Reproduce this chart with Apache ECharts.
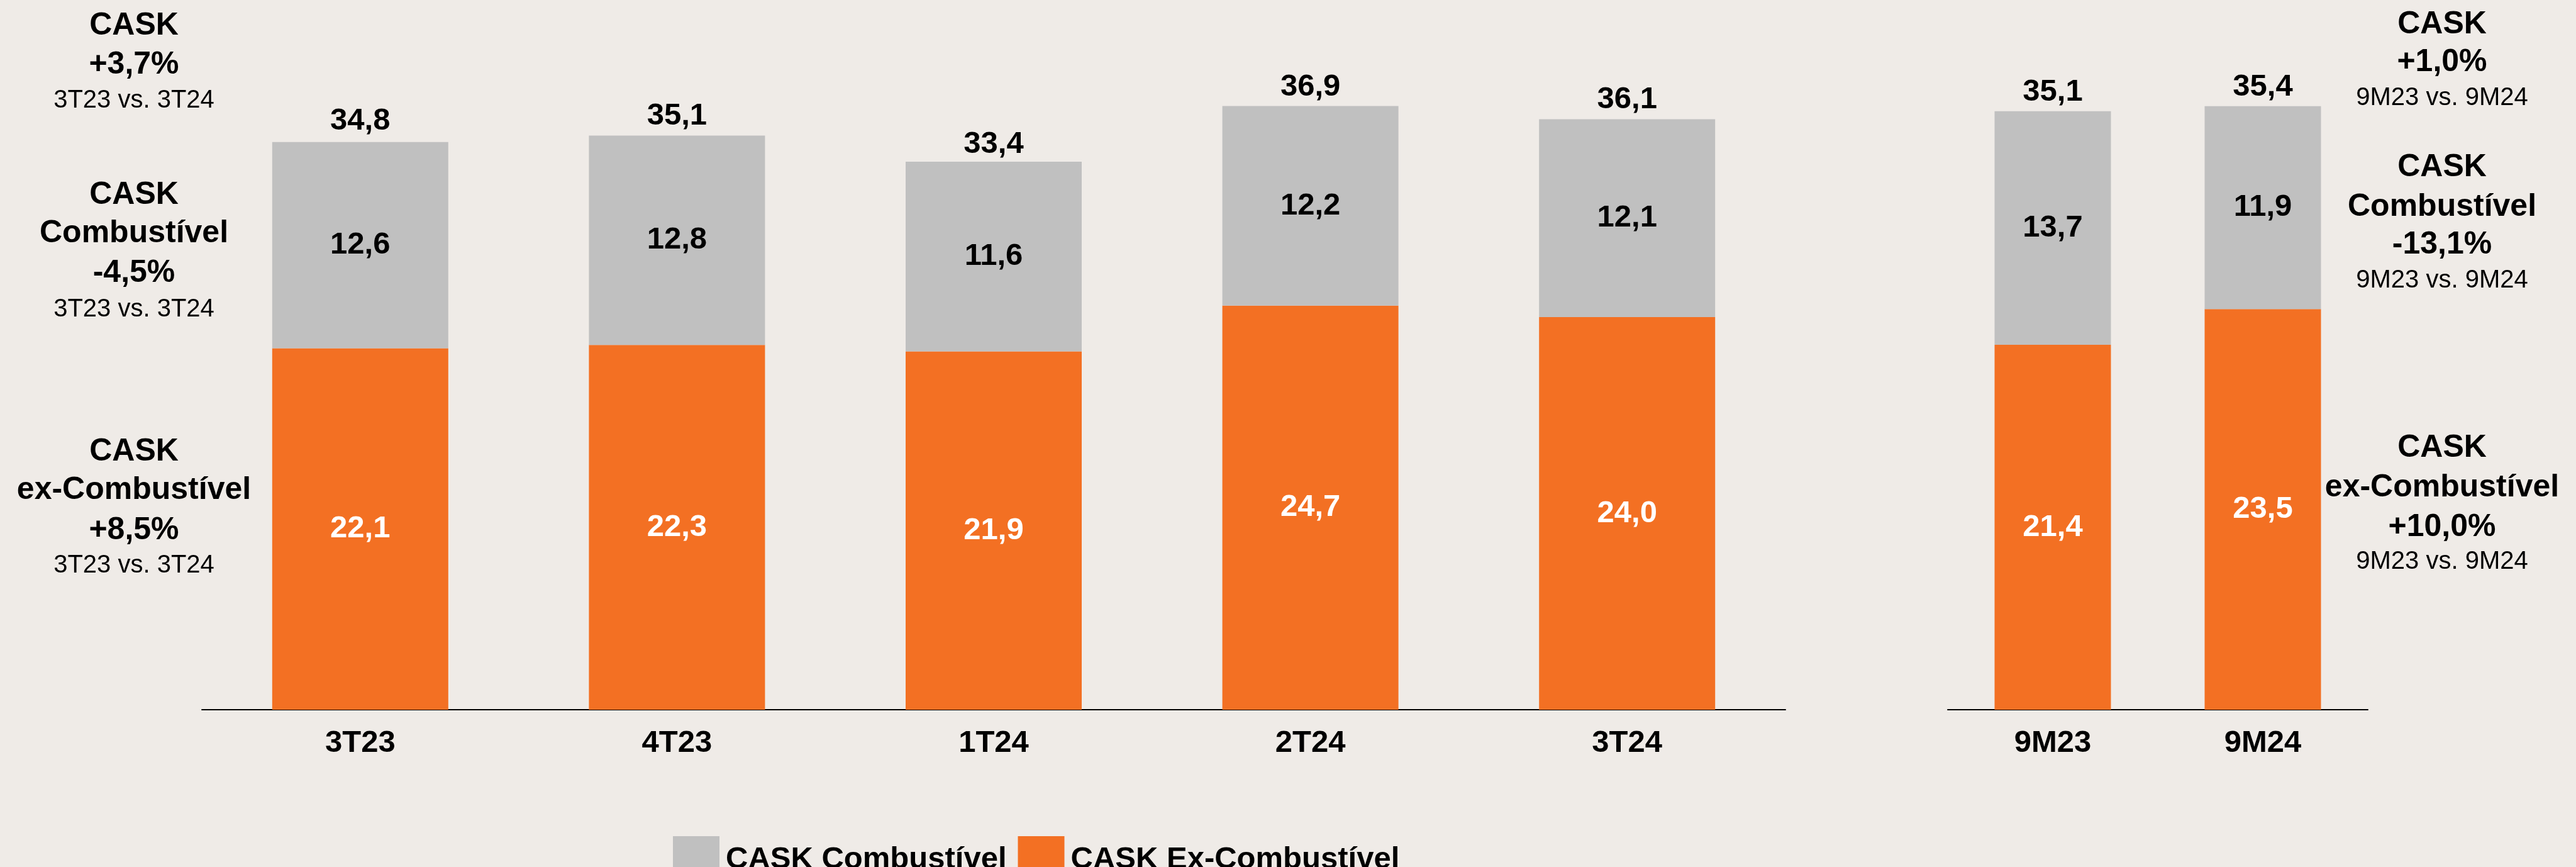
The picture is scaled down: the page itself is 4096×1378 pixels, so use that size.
<!DOCTYPE html>
<html>
<head>
<meta charset="UTF-8">
<title>CASK</title>
<script src="https://cdn.jsdelivr.net/npm/echarts@6/dist/echarts.min.js"></script>
<style>
  html, body { margin: 0; padding: 0; background: #EFEBE7; }
  #main { width: 4096px; height: 1378px; }
</style>
</head>
<body>
<div id="main"></div>
<script>
// quarterly (left panel)
var quarters = ['3T23', '4T23', '1T24', '2T24', '3T24'];
var qFuel    = [12.6, 12.8, 11.6, 12.2, 12.1];
var qExFuel  = [22.1, 22.3, 21.9, 24.7, 24.0];
var qTotal   = [34.8, 35.1, 33.4, 36.9, 36.1];

// nine months (right panel)
var periods  = ['9M23', '9M24'];
var pFuel    = [13.7, 11.9];
var pExFuel  = [21.4, 23.5];
var pTotal   = [35.1, 35.4];

// side notes
var leftNotes = [
  ['CASK', '+3,7%', '3T23 vs. 3T24'],
  ['CASK', 'Combustível', '-4,5%', '3T23 vs. 3T24'],
  ['CASK', 'ex-Combustível', '+8,5%', '3T23 vs. 3T24']
];
var rightNotes = [
  ['CASK', '+1,0%', '9M23 vs. 9M24'],
  ['CASK', 'Combustível', '-13,1%', '9M23 vs. 9M24'],
  ['CASK', 'ex-Combustível', '+10,0%', '9M23 vs. 9M24']
];

var FONT = "'Liberation Sans', Arial, sans-serif";
var GRAY = '#C0C0C0';
var ORANGE = '#F37023';

function fmt(v) {
  return v.toFixed(1).replace('.', ',');
}

// line y positions for each note block
var leftY  = [[41, 103, 160], [310, 371, 434, 492], [718, 779, 843, 899]];
var rightY = [[39, 99, 156], [266, 329, 389, 446], [712, 775, 838, 893]];

var graphics = [];
function addNotes(notes, ys, cx) {
  for (var b = 0; b < notes.length; b++) {
    for (var i = 0; i < notes[b].length; i++) {
      var last = i == notes[b].length - 1;
      graphics.push({
        type: 'text',
        x: cx,
        y: ys[b][i],
        style: {
          text: notes[b][i],
          font: (last ? 'normal 40px ' : 'bold 50px ') + FONT,
          fill: '#000',
          textAlign: 'center',
          textVerticalAlign: 'middle'
        }
      });
    }
  }
}
addNotes(leftNotes, leftY, 213);
addNotes(rightNotes, rightY, 3883);

function valueLabel(color) {
  return {
    show: true,
    position: 'inside',
    color: color,
    fontSize: 49,
    fontWeight: 'bold',
    fontFamily: FONT,
    formatter: function (p) { return fmt(p.value); }
  };
}

function totalSeries(data, idx, w) {
  return {
    type: 'bar',
    xAxisIndex: idx,
    yAxisIndex: idx,
    barWidth: w,
    barGap: '-100%',
    silent: true,
    itemStyle: { color: 'rgba(0,0,0,0)' },
    label: {
      show: true,
      position: 'top',
      distance: 6,
      color: '#000',
      fontSize: 49,
      fontWeight: 'bold',
      fontFamily: FONT,
      formatter: function (p) { return fmt(p.value); }
    },
    data: data
  };
}

function catAxis(data, idx) {
  return {
    type: 'category',
    gridIndex: idx,
    data: data,
    axisLine: { show: true, lineStyle: { color: '#000', width: 2 } },
    axisTick: { show: false },
    axisLabel: {
      color: '#000',
      fontSize: 49,
      fontWeight: 'bold',
      fontFamily: FONT,
      margin: 29
    }
  };
}

var chart = echarts.init(document.getElementById('main'));
var option = {
  backgroundColor: '#EFEBE7',
  animation: false,
  legend: {
    data: ['CASK Combustível', 'CASK Ex-Combustível'],
    left: 1065,
    top: 1324,
    itemWidth: 74,
    itemHeight: 74,
    itemGap: 18,
    icon: 'rect',
    textStyle: {
      color: '#000',
      fontSize: 49,
      fontWeight: 'bold',
      fontFamily: FONT,
      padding: [0, 0, 0, 5]
    }
  },
  grid: [
    { left: 321, top: 88, width: 2518, height: 1040 },
    { left: 3097, top: 44, width: 668, height: 1084 }
  ],
  xAxis: [catAxis(quarters, 0), catAxis(periods, 1)],
  yAxis: [
    { type: 'value', gridIndex: 0, min: 0, max: 40, show: false },
    { type: 'value', gridIndex: 1, min: 0, max: 40, show: false }
  ],
  series: [
    {
      name: 'CASK Ex-Combustível', type: 'bar', stack: 'q',
      xAxisIndex: 0, yAxisIndex: 0, barWidth: 280, barGap: '-100%',
      itemStyle: { color: ORANGE },
      label: valueLabel('#fff'),
      data: qExFuel
    },
    {
      name: 'CASK Combustível', type: 'bar', stack: 'q',
      xAxisIndex: 0, yAxisIndex: 0, barWidth: 280, barGap: '-100%',
      itemStyle: { color: GRAY },
      label: valueLabel('#000'),
      data: qFuel
    },
    totalSeries(qTotal, 0, 280),
    {
      name: 'CASK Ex-Combustível', type: 'bar', stack: 'p',
      xAxisIndex: 1, yAxisIndex: 1, barWidth: 185, barGap: '-100%',
      itemStyle: { color: ORANGE },
      label: valueLabel('#fff'),
      data: pExFuel
    },
    {
      name: 'CASK Combustível', type: 'bar', stack: 'p',
      xAxisIndex: 1, yAxisIndex: 1, barWidth: 185, barGap: '-100%',
      itemStyle: { color: GRAY },
      label: valueLabel('#000'),
      data: pFuel
    },
    totalSeries(pTotal, 1, 185)
  ],
  graphic: graphics
};
chart.setOption(option);
</script>
</body>
</html>
